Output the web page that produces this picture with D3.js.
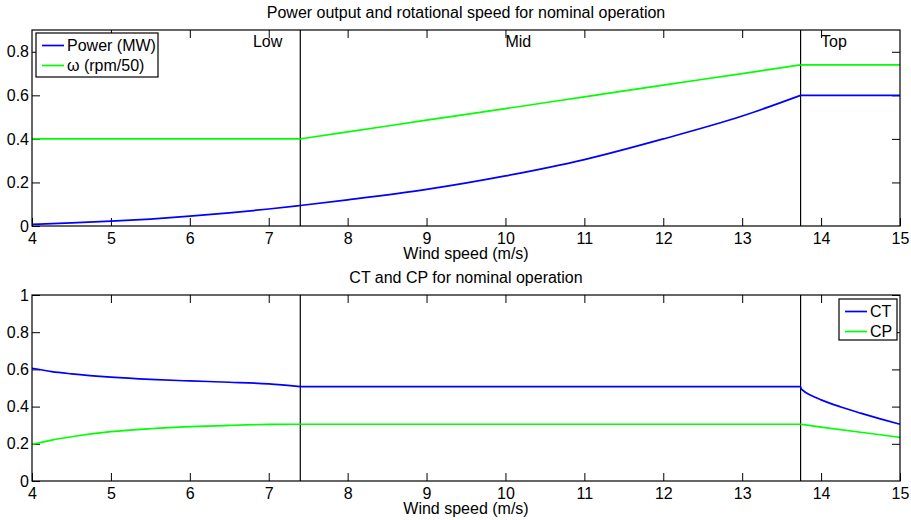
<!DOCTYPE html>
<html>
<head>
<meta charset="utf-8">
<script src="https://cdn.jsdelivr.net/npm/d3@7"></script>
<style>
  body { margin: 0; background: #fff; }
  svg text { font-family: "Liberation Sans", Arial, Helvetica, sans-serif; font-size: 16px; fill: #000; }
</style>
</head>
<body>
<div id="chart"></div>
<script>
// region boundaries (m/s)
const regionEdges  = [7.4, 13.74];
const regionLabels = ['Low', 'Mid', 'Top'];
const regionLabelX = [6.8, 10, 14];

const xTicks     = [4, 5, 6, 7, 8, 9, 10, 11, 12, 13, 14, 15];
const yTicksTop  = [0, 0.2, 0.4, 0.6, 0.8];
const yTicksBot  = [0, 0.2, 0.4, 0.6, 0.8, 1];

// top panel: power and rotor speed
const speedLow   = [4, 4.5, 5, 5.5, 6, 6.5, 7, 7.4];
const powerLow   = [0.008, 0.014, 0.022, 0.032, 0.045, 0.06, 0.078, 0.094];
const omegaLow   = [0.4, 0.4, 0.4, 0.4, 0.4, 0.4, 0.4, 0.4];
const speedMid   = [7.4, 8, 9, 10, 11, 12, 13, 13.74];
const powerMid   = [0.094, 0.12, 0.168, 0.23, 0.305, 0.40, 0.505, 0.60];
const omegaMid   = [0.4, 0.432, 0.486, 0.539, 0.593, 0.647, 0.70, 0.74];
const speedTop   = [13.74, 15];
const powerTop   = [0.60, 0.60];
const omegaTop   = [0.74, 0.74];

// bottom panel: thrust and power coefficients
const ctSpeedLow = [4, 4.25, 4.5, 5, 5.5, 6, 6.5, 7, 7.4];
const ctLow      = [0.606, 0.588, 0.576, 0.558, 0.546, 0.538, 0.531, 0.522, 0.507];
const cpLow      = [0.197, 0.22, 0.238, 0.265, 0.281, 0.292, 0.299, 0.304, 0.305];
const ctSpeedMid = [7.4, 13.74];
const ctMid      = [0.507, 0.507];
const cpMid      = [0.305, 0.305];
const ctSpeedTop = [13.74, 13.75, 13.77, 13.8, 13.85, 14, 14.25, 14.5, 14.75, 15];
const ctTop      = [0.507, 0.496, 0.487, 0.477, 0.465, 0.436, 0.398, 0.365, 0.334, 0.305];
const cpSpeedTop = [13.74, 14, 14.5, 15];
const cpTop      = [0.305, 0.29, 0.262, 0.235];

const width  = 911,
      height = 520,
      blue   = '#0000ff',
      green  = '#00ff00',
      tickLen = 8;

const svg = d3.select('#chart').append('svg')
  .attr('width', width)
  .attr('height', height);

const zip = (xs, ys) => xs.map((x, i) => [x, ys[i]]);

function drawPanel(cfg) {
  const x = d3.scaleLinear().domain([4, 15]).range([32, 900]);
  const y = d3.scaleLinear().domain(cfg.yDomain).range([cfg.bottom, cfg.top]);
  const g = svg.append('g');

  // ticks, inward on all four sides
  const xa = g.append('g').attr('transform', `translate(0,${cfg.bottom})`)
    .call(d3.axisBottom(x).tickValues(xTicks).tickSize(-tickLen).tickPadding(7).tickFormat(d3.format('d')));
  const xt = g.append('g').attr('transform', `translate(0,${cfg.top})`)
    .call(d3.axisTop(x).tickValues(xTicks).tickSize(-tickLen).tickFormat(''));
  const ya = g.append('g').attr('transform', 'translate(32,0)')
    .call(d3.axisLeft(y).tickValues(cfg.yTicks).tickSize(-tickLen).tickPadding(3).tickFormat(d => d === 0 ? '0' : d === 1 ? '1' : d3.format('.1f')(d)));
  const yr = g.append('g').attr('transform', 'translate(900,0)')
    .call(d3.axisRight(y).tickValues(cfg.yTicks).tickSize(-tickLen).tickFormat(''));
  [xa, xt, ya, yr].forEach(a => {
    a.select('.domain').remove();
    a.selectAll('line').attr('stroke', '#000');
    a.selectAll('text').style('font-size', '16px').attr('fill', '#000');
  });
  xa.selectAll('text').attr('dy', '0.71em');
  // drop the tick marks that sit on the box corners
  xt.selectAll('.tick').filter(d => d === 4 || d === 15).remove();
  yr.selectAll('.tick').filter(d => d === 0).remove();

  // region separators
  g.selectAll('.edge').data(regionEdges).join('line')
    .attr('class', 'edge')
    .attr('x1', d => x(d)).attr('x2', d => x(d))
    .attr('y1', cfg.top).attr('y2', cfg.bottom)
    .attr('stroke', '#000').attr('stroke-width', 1.2);

  if (cfg.regionText) {
    g.selectAll('.region').data(regionLabels).join('text')
      .attr('class', 'region')
      .attr('x', (d, i) => x(regionLabelX[i]))
      .attr('y', cfg.top + 17)
      .text(d => d);
  }

  const line = d3.line()
    .x(d => x(d[0]))
    .y(d => y(d[1]))
    .curve(d3.curveMonotoneX);

  cfg.series.forEach(s => {
    s.parts.forEach(p => {
      g.append('path')
        .attr('d', line(p))
        .attr('fill', 'none')
        .attr('stroke', s.color)
        .attr('stroke-width', 1.7);
    });
  });

  // box
  g.append('rect')
    .attr('x', 32).attr('y', cfg.top)
    .attr('width', 868).attr('height', cfg.bottom - cfg.top)
    .attr('fill', 'none').attr('stroke', '#000').attr('stroke-width', 1.2);

  // titles
  g.append('text')
    .attr('x', 466).attr('y', cfg.titleY)
    .attr('text-anchor', 'middle')
    .text(cfg.title);
  g.append('text')
    .attr('x', 466).attr('y', cfg.bottom + 33)
    .attr('text-anchor', 'middle')
    .text('Wind speed (m/s)');

  // legend
  const L = cfg.legend;
  const lg = g.append('g');
  lg.append('rect')
    .attr('x', L.x).attr('y', L.y)
    .attr('width', L.w).attr('height', L.h)
    .attr('fill', '#fff').attr('stroke', '#000').attr('stroke-width', 1.2);
  cfg.series.forEach((s, i) => {
    const ly = L.y + 12.5 + i * 20;
    lg.append('line')
      .attr('x1', L.x + 6).attr('x2', L.x + 28)
      .attr('y1', ly).attr('y2', ly)
      .attr('stroke', s.color).attr('stroke-width', 1.7);
    lg.append('text')
      .attr('x', L.x + 31).attr('y', ly + 5.5)
      .text(s.name);
  });
}

drawPanel({
  top: 30, bottom: 226, yDomain: [0, 0.9], yTicks: yTicksTop,
  title: 'Power output and rotational speed for nominal operation', titleY: 18,
  regionText: true,
  legend: {x: 36, y: 33, w: 122, h: 44},
  series: [
    {name: 'Power (MW)', color: blue,
     parts: [zip(speedLow, powerLow), zip(speedMid, powerMid), zip(speedTop, powerTop)]},
    {name: 'ω (rpm/50)', color: green,
     parts: [zip(speedLow, omegaLow), zip(speedMid, omegaMid), zip(speedTop, omegaTop)]}
  ]
});

drawPanel({
  top: 295, bottom: 481, yDomain: [0, 1], yTicks: yTicksBot,
  title: 'CT and CP for nominal operation', titleY: 283,
  regionText: false,
  legend: {x: 839, y: 299, w: 58, h: 41},
  series: [
    {name: 'CT', color: blue,
     parts: [zip(ctSpeedLow, ctLow), zip(ctSpeedMid, ctMid), zip(ctSpeedTop, ctTop)]},
    {name: 'CP', color: green,
     parts: [zip(ctSpeedLow, cpLow), zip(ctSpeedMid, cpMid), zip(cpSpeedTop, cpTop)]}
  ]
});
</script>
</body>
</html>
